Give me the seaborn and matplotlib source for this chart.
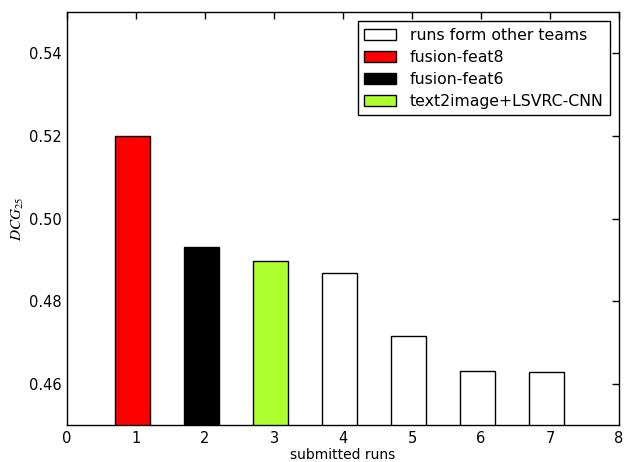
import matplotlib
matplotlib.use("Agg")
import matplotlib.pyplot as plt
import seaborn as sns
import pandas as pd
import numpy as np

runs = [1, 2, 3, 4, 5, 6, 7]
scores = [0.5200, 0.4930, 0.4896, 0.4868, 0.4715, 0.4632, 0.4628]
groups = ["fusion-feat8", "fusion-feat6", "text2image+LSVRC-CNN",
          "runs form other teams", "runs form other teams",
          "runs form other teams", "runs form other teams"]
legend_order = ["runs form other teams", "fusion-feat8", "fusion-feat6", "text2image+LSVRC-CNN"]
colors = ["#ffffff", "#ff0000", "#000000", "#adff2f"]
xticks = [0, 1, 2, 3, 4, 5, 6, 7, 8]
yticks = [0.46, 0.48, 0.50, 0.52, 0.54]

sns.set_style("white")
plt.rcParams['font.family'] = ['DejaVu Sans']
plt.rcParams['mathtext.fontset'] = 'stix'
plt.rcParams['text.color'] = 'black'
plt.rcParams['axes.labelcolor'] = 'black'

# bars in the original sit slightly left of the integer ticks
bar_shift = -0.05
df = pd.DataFrame({"run": np.array(runs) + bar_shift, "score": scores, "group": groups})

fig, ax = plt.subplots(figsize=(6.26, 4.62), dpi=100)
fig.subplots_adjust(left=0.107, right=0.989, top=0.974, bottom=0.080)

sns.barplot(data=df, x="run", y="score", hue="group", hue_order=legend_order,
            palette=dict(zip(legend_order, colors)), dodge=False, native_scale=True,
            width=0.5, edgecolor="black", linewidth=1, saturation=1, ax=ax)

ax.set_xlim(0, 8)
ax.set_ylim(0.45, 0.55)
ax.set_xticks(xticks)
ax.set_xticklabels([str(t) for t in xticks])
ax.set_yticks(yticks)
ax.set_yticklabels([f"{t:.2f}" for t in yticks])
ax.tick_params(direction="in", length=5, width=1, top=True, right=True,
               labelsize=10.5, colors="black", pad=4)
for s in ax.spines.values():
    s.set_color("black")
    s.set_linewidth(1)
ax.set_xlabel("submitted runs", fontsize=10, labelpad=2, color="black")
ax.set_ylabel(r"$DCG_{25}$", fontsize=11, labelpad=2, color="black")
ax.grid(False)

leg = ax.legend(loc="upper right", fontsize=11.3, frameon=True, fancybox=False,
                edgecolor="black", framealpha=1, borderaxespad=0.6,
                handlelength=2.0, handleheight=0.7, handletextpad=0.9, labelspacing=0.45,
                borderpad=0.4)
leg.get_frame().set_linewidth(1)
for h in leg.legend_handles:
    h.set_edgecolor("black")
for t in leg.get_texts():
    t.set_color("black")

fig.savefig("out.png", dpi=100)
